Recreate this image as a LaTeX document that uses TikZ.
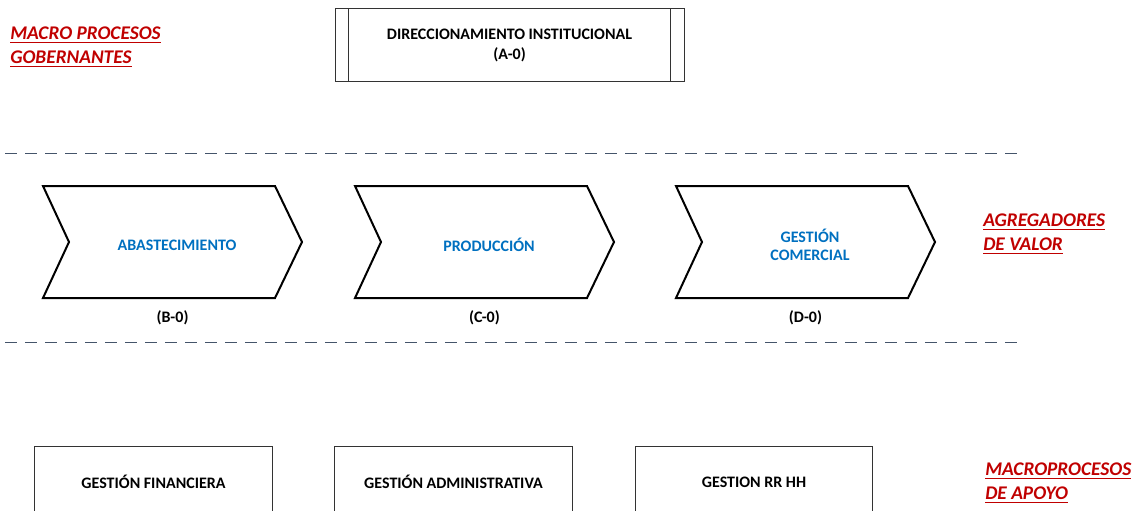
\documentclass[tikz,border=0pt]{standalone}
\usepackage{fontspec}
\setmainfont{Carlito}
\usetikzlibrary{positioning}
\definecolor{titlered}{RGB}{192,0,0}
\definecolor{procblue}{RGB}{0,112,192}
\definecolor{lanegray}{RGB}{68,84,106}
\tikzset{
  mapa/.style={x=0.75pt,y=-0.75pt,font=\fontsize{12}{15}\selectfont\bfseries},
  caja/.style={draw=black!80,line width=0.75pt,align=center,inner sep=2pt},
  eslabon/.style={draw=black,line width=1.5pt,line join=miter},
  proc/.style={text=procblue,align=center,font=\fontsize{12}{13.5}\selectfont\bfseries},
  codigo/.style={font=\fontsize{12}{13}\selectfont\bfseries},
  grupo/.style={text=titlered,align=left,anchor=west,inner sep=0pt,
    font=\fontsize{14.5}{18}\selectfont\bfseries\itshape},
  carril/.style={draw=lanegray,line width=0.75pt,dash pattern=on 9pt off 6pt},
}

\begin{document}
\begin{tikzpicture}[mapa]
\clip (0,0) rectangle (1137,510);
% group titles
\node[grupo] (gob) at (10,47) {\underline{MACRO PROCESOS}\\\underline{GOBERNANTES}};
\node[grupo] (val) at (983,234) {\underline{AGREGADORES}\\\underline{DE VALOR}};
\node[grupo] (apo) at (985,483) {\underline{MACROPROCESOS}\\\underline{DE APOYO}};
% governing process
\node[caja,minimum width=261.75pt,minimum height=54pt] (dir) at (509.5,45)
  {DIRECCIONAMIENTO INSTITUCIONAL\\(A-0)};
\draw[draw=black!80,line width=0.75pt] ([xshift=10.5pt]dir.north west) -- ([xshift=10.5pt]dir.south west);
\draw[draw=black!80,line width=0.75pt] ([xshift=-10.5pt]dir.north east) -- ([xshift=-10.5pt]dir.south east);
% lanes
\draw[carril] (5,153) -- (1020,153);
\draw[carril] (5,342) -- (1020,342);
% value chain
\foreach \x/\name/\txt/\cod in {43/abast/ABASTECIMIENTO/B-0,355/prod/PRODUCCIÓN/C-0,676/comer/{GESTIÓN\\COMERCIAL}/D-0} {
  \draw[eslabon] (\x,186) -- ++(232,0) -- ++(27,56) -- ++(-27,56) -- ++(-232,0) -- ++(26,-56) -- cycle;
  \node[proc] (\name) at (\x+134,245) {\txt};
  \node[codigo] (\name-cod) at (\x+129.5,318) {(\cod)};
}
% support processes
\foreach \x/\name/\txt in {153.5/fin/GESTIÓN FINANCIERA,453.5/adm/GESTIÓN ADMINISTRATIVA,754/rrhh/GESTION RR HH} {
  \node[caja,minimum width=178pt,minimum height=54pt] (\name) at (\x,482) {\txt};
}
\end{tikzpicture}
\end{document}
